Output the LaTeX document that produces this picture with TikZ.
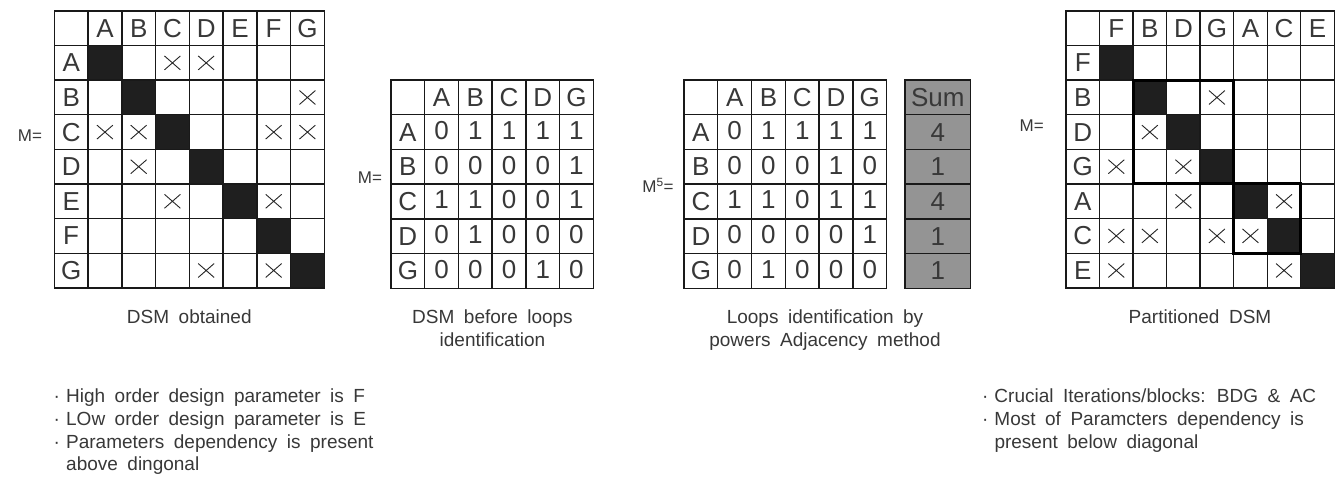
\documentclass[tikz,border=0pt]{standalone}
\usepackage{fontspec}
\setmainfont{Liberation Sans}[WordSpace=1.8]
\usetikzlibrary{shapes.misc}
% bullet dot followed by a fixed gap
\newcommand\dotitem{\makebox[12.5pt][l]{·}}
\begin{document}
\begin{tikzpicture}[x=1pt,y=-1pt,
  every node/.style={inner sep=0pt, text=black!78},
  gridline/.style={draw=black!90, line width=1.4pt, line cap=rect},
  diag/.style={fill=black!88},
  cell/.style={font=\fontsize{26}{26}\selectfont},
  xmark/.style={cross out, draw=black!85, line width=0.9pt, minimum width=15pt, minimum height=13pt},
  caption/.style={font=\fontsize{19}{22.7}\selectfont, anchor=base},
  note/.style={font=\fontsize{19}{22.7}\selectfont, anchor=base west},
  meq/.style={font=\fontsize{17}{17}\selectfont},
  blockbox/.style={draw=black, line width=3pt, line cap=rect},
  sumfill/.style={fill=black!42},
]
\useasboundingbox[fill=white] (0,0) rectangle (1342,484);

% ---------- DSM obtained ----------
\node[meq] (eqA) at (30,136) {M=};
\begin{scope}[shift={(54.3,11)}, x=33.75pt, y=-34.6pt]
  \foreach \i in {1,...,7} \fill[diag] (\i,\i) rectangle (\i+1,\i+1);
  \foreach \i in {0,...,8} {
    \draw[gridline] (\i,0) -- (\i,8);
    \draw[gridline] (0,\i) -- (8,\i);
  }
  \foreach \t [count=\k] in {A,B,C,D,E,F,G} {
    \node[cell] (dA-col-\t) at (\k+0.5,0.5) {\t};
    \node[cell] (dA-row-\t) at (0.5,\k+0.5) {\t};
  }
  \foreach \r/\c in {1/3,1/4,2/7,3/1,3/2,3/6,3/7,4/2,5/3,5/6,7/4,7/6}
    \node[xmark] (dA-x-\r-\c) at (\c+0.5,\r+0.5) {};
\end{scope}

% ---------- DSM before loops identification ----------
\node[meq] (eqB) at (370,178) {M=};
\begin{scope}[shift={(391,80)}, x=33.72pt, y=-34.72pt]
  \foreach \i in {0,...,6} {
    \draw[gridline] (\i,0) -- (\i,6);
    \draw[gridline] (0,\i) -- (6,\i);
  }
  \foreach \t [count=\k] in {A,B,C,D,G} {
    \node[cell] (dB-col-\t) at (\k+0.5,0.5) {\t};
    \node[cell] (dB-row-\t) at (0.5,\k+0.5) {\t};
  }
  \foreach \vals [count=\r] in {{0,1,1,1,1},{0,0,0,0,1},{1,1,0,0,1},{0,1,0,0,0},{0,0,0,1,0}}
    \foreach \v [count=\c] in \vals
      \node[cell, yshift=1.5pt] (dB-\r-\c) at (\c+0.5,\r+0.5) {\v};
\end{scope}

% ---------- Fifth power of the adjacency matrix ----------
\node[meq] (eqC) at (658,185.5) {M\textsuperscript{5}=};
\begin{scope}[shift={(684,80)}, x=33.78pt, y=-34.72pt]
  \foreach \i in {0,...,6} {
    \draw[gridline] (\i,0) -- (\i,6);
    \draw[gridline] (0,\i) -- (6,\i);
  }
  \foreach \t [count=\k] in {A,B,C,D,G} {
    \node[cell] (dC-col-\t) at (\k+0.5,0.5) {\t};
    \node[cell] (dC-row-\t) at (0.5,\k+0.5) {\t};
  }
  \foreach \vals [count=\r] in {{0,1,1,1,1},{0,0,0,1,0},{1,1,0,1,1},{0,0,0,0,1},{0,1,0,0,0}}
    \foreach \v [count=\c] in \vals
      \node[cell, yshift=1.5pt] (dC-\r-\c) at (\c+0.5,\r+0.5) {\v};
\end{scope}
% row sums
\begin{scope}[shift={(905,80)}, x=65.7pt, y=-34.72pt]
  \fill[sumfill] (0,0) rectangle (1,6);
  \foreach \i in {0,...,6} \draw[gridline] (0,\i) -- (1,\i);
  \draw[gridline] (0,0) -- (0,6);
  \draw[gridline] (1,0) -- (1,6);
  \node[cell] (sum-head) at (0.5,0.5) {Sum};
  \foreach \v [count=\r] in {4,1,4,1,1}
    \node[cell] (sum-\r) at (0.5,\r+0.5) {\v};
\end{scope}

% ---------- Partitioned DSM ----------
\node[meq] (eqD) at (1031.7,125.3) {M=};
\begin{scope}[shift={(1066,11)}, x=33.54pt, y=-34.6pt]
  \foreach \i in {1,...,7} \fill[diag] (\i,\i) rectangle (\i+1,\i+1);
  \foreach \i in {0,...,8} {
    \draw[gridline] (\i,0) -- (\i,8);
    \draw[gridline] (0,\i) -- (8,\i);
  }
  \foreach \t [count=\k] in {F,B,D,G,A,C,E} {
    \node[cell] (dD-col-\t) at (\k+0.5,0.5) {\t};
    \node[cell] (dD-row-\t) at (0.5,\k+0.5) {\t};
  }
  \foreach \r/\c in {2/4,3/2,4/1,4/3,5/3,5/6,6/1,6/2,6/4,6/5,7/1,7/6}
    \node[xmark] (dD-x-\r-\c) at (\c+0.5,\r+0.5) {};
  % coupled blocks
  \draw[blockbox] (2,2) rectangle (5,5);
  \draw[blockbox] (5,5) rectangle (7,7);
\end{scope}

% ---------- captions ----------
\node[caption] (capA) at (189.3,323.3) {DSM obtained};
\node[caption] (capB1) at (492.5,323.3) {DSM before loops};
\node[caption] (capB2) at (492.5,346) {identification};
\node[caption] (capC1) at (825,323.3) {Loops identification by};
\node[caption] (capC2) at (825,346) {powers Adjacency method};
\node[caption] (capD) at (1200,323.3) {Partitioned DSM};

% ---------- notes ----------
\node[note] (noteA1) at (53.5,402.7) {\dotitem High order design parameter is F};
\node[note] (noteA2) at (53.5,425.4) {\dotitem LOw order design parameter is E};
\node[note] (noteA3) at (53.5,448.1) {\dotitem Parameters dependency is present};
\node[note] (noteA4) at (66,470.8) {above dingonal};

\node[note] (noteD1) at (981.8,402.7) {\dotitem Crucial Iterations/blocks: BDG \& AC};
\node[note] (noteD2) at (981.8,425.4) {\dotitem Most of Paramcters dependency is};
\node[note] (noteD3) at (994.3,448.1) {present below diagonal};
\end{tikzpicture}
\end{document}
